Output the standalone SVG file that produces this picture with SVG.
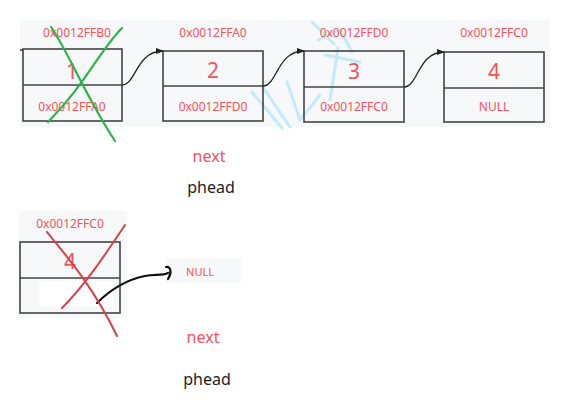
<svg xmlns="http://www.w3.org/2000/svg" width="580" height="413" viewBox="0 0 580 413">
<defs>
<style>
.bg{fill:#f7f8fa}
.box{fill:none;stroke:#444;stroke-width:1.6}
.addr{font-family:"Noto Sans","Open Sans",sans-serif;font-size:12px;fill:#f5525a;text-anchor:middle}
.val{font-family:"Noto Sans","Open Sans",sans-serif;font-size:21px;fill:#f5525a;text-anchor:middle}
.lbl{font-family:"Noto Sans","Open Sans",sans-serif;font-size:16px;text-anchor:middle}
.link{fill:none;stroke:#222;stroke-width:1.3}
</style>
<marker id="ah" markerWidth="8" markerHeight="8" refX="7" refY="4" orient="auto" markerUnits="userSpaceOnUse">
<path d="M0,1 L8,4 L0,7 Z" fill="#222"/>
</marker>
</defs>
<rect width="580" height="413" fill="#fff"/>
<rect class="bg" x="20" y="20" width="530" height="107"/>
<g id="watermark" stroke="#c6e9f7" stroke-width="3" fill="none" stroke-linecap="round">
<path d="M252,92 L282,128"/>
<path d="M262,86 L290,127"/>
<path d="M287,82 L300,120"/>
<path d="M312,22 L334,44"/>
<path d="M318,40 L340,30 L352,52"/>
<path d="M325,55 L360,62"/>
<path d="M338,48 L330,100"/>
<path d="M300,120 L320,95"/>
</g>
<g id="node1">
<text class="addr" x="77" y="37">0x0012FFB0</text>
<rect class="box" x="23" y="49" width="99" height="72"/>
<line class="box" x1="23" y1="85" x2="122" y2="85"/>
<text class="val" x="72" y="79">1</text>
<text class="addr" x="72" y="111">0x0012FFA0</text>
</g>
<g id="node2">
<text class="addr" x="213" y="37">0x0012FFA0</text>
<rect class="box" x="163" y="51" width="100" height="70"/>
<line class="box" x1="163" y1="86" x2="263" y2="86"/>
<text class="val" x="213" y="78">2</text>
<text class="addr" x="213" y="111">0x0012FFD0</text>
</g>
<g id="node3">
<text class="addr" x="354" y="37">0x0012FFD0</text>
<rect class="box" x="304" y="51" width="100" height="71"/>
<line class="box" x1="304" y1="87" x2="404" y2="87"/>
<text class="val" x="354" y="79">3</text>
<text class="addr" x="354" y="111">0x0012FFC0</text>
</g>
<g id="node4">
<text class="addr" x="494" y="37">0x0012FFC0</text>
<rect class="box" x="444" y="52" width="100" height="70"/>
<line class="box" x1="444" y1="88" x2="544" y2="88"/>
<text class="val" x="494" y="79">4</text>
<text class="addr" x="494" y="111">NULL</text>
</g>
<text class="lbl" x="209" y="162" fill="#f5525a">next</text>
<text class="lbl" x="211" y="193" fill="#222">phead</text>
<g id="node4b">
<rect class="bg" x="19" y="211" width="108" height="107"/>
<text class="addr" x="70" y="228">0x0012FFC0</text>
<rect class="box" x="20" y="242" width="100" height="71"/>
<line class="box" x1="20" y1="278" x2="120" y2="278"/>
<rect x="39" y="281" width="74" height="26" fill="#fff"/>
<text class="val" x="70" y="269">4</text>
</g>
<g id="null">
<rect class="bg" x="167" y="259" width="74" height="24"/>
<text class="addr" x="200" y="276" style="font-size:11px">NULL</text>
</g>
<text class="lbl" x="203" y="343" fill="#f5525a">next</text>
<text class="lbl" x="207" y="385" fill="#222">phead</text>
<g id="connectors">
<line class="link" x1="20" y1="50" x2="23" y2="50"/>
<path class="link" marker-end="url(#ah)" d="M122,85 C136,85 136,51 163,51"/>
<path class="link" stroke="#1f3a4d" marker-end="url(#ah)" d="M263,86 C277,86 277,51 304,51"/>
<path class="link" marker-end="url(#ah)" d="M404,87 C418,87 418,52 444,52"/>
<path fill="none" stroke="#111" stroke-width="2.2" stroke-linecap="round" d="M97,303 C110,290 125,280 145,276 C155,274 162,276 168,273"/>
<path fill="none" stroke="#111" stroke-width="2.2" stroke-linecap="round" d="M166,267 C171,266 172,273 168,279"/>
</g>
<g id="cross1" fill="none" stroke="#2db34a" stroke-width="2.2" stroke-linecap="round">
<path d="M51,27 C70,55 85,95 115,141"/>
<path d="M122,28 C100,50 85,85 48,122"/>
</g>
<g id="cross2" fill="none" stroke="#d4434c" stroke-width="2" stroke-linecap="round">
<path d="M47,232 C70,260 95,290 117,336"/>
<path d="M125,225 C105,255 85,285 62,308"/>
</g>
</svg>
